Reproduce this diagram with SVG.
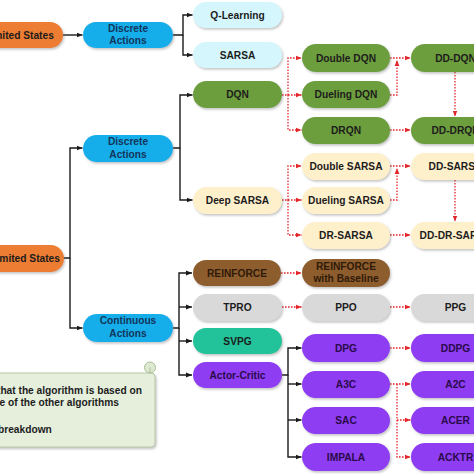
<svg xmlns="http://www.w3.org/2000/svg" width="474" height="474" viewBox="0 0 474 474">
<defs>
<filter id="sh" x="-10%" y="-20%" width="130%" height="160%">
<feDropShadow dx="1.2" dy="1.6" stdDeviation="0.9" flood-color="#7a7a7a" flood-opacity="0.45"/>
</filter>
<marker id="ab" viewBox="0 0 6 6" refX="6" refY="3" markerWidth="6" markerHeight="6" markerUnits="userSpaceOnUse" orient="auto">
<path d="M0,0.6 L6,3 L0,5.4 z" fill="#1a1a1a"/>
</marker>
<marker id="ar" viewBox="0 0 6 6" refX="6" refY="3" markerWidth="6" markerHeight="6" markerUnits="userSpaceOnUse" orient="auto">
<path d="M0,0.6 L6,3 L0,5.4 z" fill="#e3262b"/>
</marker>
</defs>
<style>
.n rect{filter:url(#sh);}
text{font-family:"Liberation Sans",Arial,sans-serif;font-weight:bold;font-size:10.2px;text-anchor:middle;fill:#1c1c1c;}
.or{fill:#ed7d31;}
.bl{fill:#14aeea;}
.cy{fill:#d4f6fc;}
.gr{fill:#6d9e3e;}
.cr{fill:#fff0cc;}
.br{fill:#8e5d2d;}
.gy{fill:#d9d9d9;}
.tl{fill:#22c39a;}
.pu{fill:#8e3cf2;}
.bt{fill:#12355b;}
.pt{fill:#2a0a4a;}
.brt{fill:#2e1a08;}
.k{fill:none;stroke:#1a1a1a;stroke-width:1.4;marker-end:url(#ab);}
.r{fill:none;stroke:#e3262b;stroke-width:1.3;stroke-dasharray:1.6 1.4;marker-end:url(#ar);}
.lg{font-size:10.2px;text-anchor:start;fill:#1c1c1c;}
</style>
<rect width="474" height="474" fill="#ffffff"/>

<g id="connectors">
<path class="k" d="M63,35 H82.5"/>
<path class="k" d="M173,35 H183 V15 H192.5"/>
<path class="k" d="M183,35 V55 H192.5"/>
<path class="k" d="M63,258 H70 V148 H82.5"/>
<path class="k" d="M70,258 V328 H82.5"/>
<path class="k" d="M173,148 H180 V95 H192.5"/>
<path class="k" d="M180,148 V200 H192.5"/>
<path class="k" d="M173,328 H179 V273 H192"/>
<path class="k" d="M179,307 H192"/>
<path class="k" d="M179,328 V375 H192"/>
<path class="k" d="M179,341 H192"/>
<path class="k" d="M282,375 H288 V348 H301.5"/>
<path class="k" d="M288,375 V457 H301.5"/>
<path class="k" d="M288,384 H301.5"/>
<path class="k" d="M288,420 H301.5"/>

<path class="r" d="M282,95 H288 V58 H301.5"/>
<path class="r" d="M288,95 V130 H301.5"/>
<path class="r" d="M288,95 H301.5"/>
<path class="r" d="M390,58 H410.5"/>
<path class="r" d="M390,95 H397 V60"/>
<path class="r" d="M390,130 H410.5"/>
<path class="r" d="M455,72 V116.5"/>

<path class="r" d="M282,200 H288 V166 H301.5"/>
<path class="r" d="M288,200 V235 H301.5"/>
<path class="r" d="M288,200 H301.5"/>
<path class="r" d="M390,166 H410.5"/>
<path class="r" d="M390,200 H397 V168"/>
<path class="r" d="M390,235 H410.5"/>
<path class="r" d="M455,180 V221.5"/>

<path class="r" d="M281,273 H301.5"/>
<path class="r" d="M282,307 H301.5"/>
<path class="r" d="M390,307 H410.5"/>
<path class="r" d="M390,348 H410.5"/>
<path class="r" d="M390,384 H410.5"/>
<path class="r" d="M397,384 V457 H410.5"/>
<path class="r" d="M397,420 H410.5"/>
</g>

<g id="limited" class="n"><rect class="or" x="-26" y="22" width="89" height="26" rx="13"/><text x="19" y="38.6">Limited States</text></g>
<g id="unlimited" class="n"><rect class="or" x="-26" y="245" width="90" height="27" rx="13.5"/><text x="20" y="262">Unlimited States</text></g>

<g id="discrete1" class="n"><rect class="bl" x="83" y="22" width="90" height="26" rx="13"/><text class="bt" x="128" y="31.5">Discrete</text><text class="bt" x="128" y="44">Actions</text></g>
<g id="discrete2" class="n"><rect class="bl" x="83" y="135" width="90" height="27" rx="13.5"/><text class="bt" x="128" y="145">Discrete</text><text class="bt" x="128" y="157.5">Actions</text></g>
<g id="continuous" class="n"><rect class="bl" x="83" y="314" width="90" height="28" rx="14"/><text class="bt" x="128" y="324.3">Continuous</text><text class="bt" x="128" y="337">Actions</text></g>

<g id="qlearning" class="n"><rect class="cy" x="193" y="2" width="89" height="26" rx="13"/><text x="237.5" y="18.6">Q-Learning</text></g>
<g id="sarsa" class="n"><rect class="cy" x="193" y="42" width="89" height="26" rx="13"/><text x="237.5" y="58.6">SARSA</text></g>
<g id="dqn" class="n"><rect class="gr" x="193" y="81" width="89" height="27" rx="13.5"/><text x="237.5" y="98.1">DQN</text></g>
<g id="deepsarsa" class="n"><rect class="cr" x="193" y="187" width="89" height="27" rx="13.5"/><text x="237.5" y="204.1">Deep SARSA</text></g>
<g id="reinforce" class="n"><rect class="br" x="193" y="260" width="88" height="26" rx="13"/><text class="brt" x="237" y="276.6">REINFORCE</text></g>
<g id="tpro" class="n"><rect class="gy" x="193" y="294" width="89" height="27" rx="13.5"/><text x="237.5" y="311.1">TPRO</text></g>
<g id="svpg" class="n"><rect class="tl" x="193" y="328" width="89" height="26" rx="13"/><text x="237.5" y="344.6">SVPG</text></g>
<g id="actorcritic" class="n"><rect class="pu" x="193" y="362" width="89" height="26" rx="13"/><text class="pt" x="237.5" y="378.6">Actor-Critic</text></g>

<g id="doubledqn" class="n"><rect class="gr" x="302" y="44" width="88" height="28" rx="14"/><text x="346" y="61.6">Double DQN</text></g>
<g id="duelingdqn" class="n"><rect class="gr" x="302" y="81" width="88" height="27" rx="13.5"/><text x="346" y="98.1">Dueling DQN</text></g>
<g id="drqn" class="n"><rect class="gr" x="302" y="117" width="88" height="27" rx="13.5"/><text x="346" y="134.1">DRQN</text></g>
<g id="doublesarsa" class="n"><rect class="cr" x="302" y="153" width="88" height="27" rx="13.5"/><text x="346" y="170.1">Double SARSA</text></g>
<g id="duelingsarsa" class="n"><rect class="cr" x="302" y="187" width="88" height="27" rx="13.5"/><text x="346" y="204.1">Dueling SARSA</text></g>
<g id="drsarsa" class="n"><rect class="cr" x="302" y="222" width="88" height="27" rx="13.5"/><text x="346" y="239.1">DR-SARSA</text></g>
<g id="reinforcebaseline" class="n"><rect class="br" x="302" y="259" width="88" height="28" rx="14"/><text class="brt" x="346" y="269.5">REINFORCE</text><text class="brt" x="346" y="282">with Baseline</text></g>
<g id="ppo" class="n"><rect class="gy" x="302" y="294" width="88" height="27" rx="13.5"/><text x="346" y="311.1">PPO</text></g>
<g id="dpg" class="n"><rect class="pu" x="302" y="334" width="88" height="28" rx="14"/><text class="pt" x="346" y="351.6">DPG</text></g>
<g id="a3c" class="n"><rect class="pu" x="302" y="371" width="88" height="27" rx="13.5"/><text class="pt" x="346" y="388.1">A3C</text></g>
<g id="sac" class="n"><rect class="pu" x="302" y="407" width="88" height="27" rx="13.5"/><text class="pt" x="346" y="424.1">SAC</text></g>
<g id="impala" class="n"><rect class="pu" x="302" y="443" width="88" height="28" rx="14"/><text class="pt" x="346" y="460.6">IMPALA</text></g>

<g id="dddqn" class="n"><rect class="gr" x="411" y="44" width="89" height="28" rx="14"/><text x="455.5" y="61.6">DD-DQN</text></g>
<g id="dddrqn" class="n"><rect class="gr" x="411" y="117" width="89" height="27" rx="13.5"/><text x="455.5" y="134.1">DD-DRQN</text></g>
<g id="ddsarsa" class="n"><rect class="cr" x="411" y="153" width="89" height="27" rx="13.5"/><text x="455.5" y="170.1">DD-SARSA</text></g>
<g id="dddrsarsa" class="n"><rect class="cr" x="411" y="222" width="89" height="27" rx="13.5"/><text x="455.5" y="239.1">DD-DR-SARSA</text></g>
<g id="ppg" class="n"><rect class="gy" x="411" y="294" width="89" height="27" rx="13.5"/><text x="455.5" y="311.1">PPG</text></g>
<g id="ddpg" class="n"><rect class="pu" x="411" y="334" width="89" height="28" rx="14"/><text class="pt" x="455.5" y="351.6">DDPG</text></g>
<g id="a2c" class="n"><rect class="pu" x="411" y="371" width="89" height="27" rx="13.5"/><text class="pt" x="455.5" y="388.1">A2C</text></g>
<g id="acer" class="n"><rect class="pu" x="411" y="407" width="89" height="27" rx="13.5"/><text class="pt" x="455.5" y="424.1">ACER</text></g>
<g id="acktr" class="n"><rect class="pu" x="411" y="443" width="89" height="28" rx="14"/><text class="pt" x="455.5" y="460.6">ACKTR</text></g>

<g id="legend">
<rect x="-12" y="373" width="167" height="74" rx="4" fill="#e6efdc" stroke="#b8c8a6" stroke-width="1" filter="url(#sh)"/>
<circle cx="150" cy="367.5" r="5.5" fill="#dde9d0" stroke="#a9bd94" stroke-width="1"/>
<path d="M150,373 V367.5" fill="none" stroke="#a9bd94" stroke-width="1"/>
<text class="lg" x="-3" y="393.5">that the algorithm is based on</text>
<text class="lg" x="-13" y="406">one of the other algorithms</text>
<text class="lg" x="-2" y="432.5">breakdown</text>
</g>
</svg>
